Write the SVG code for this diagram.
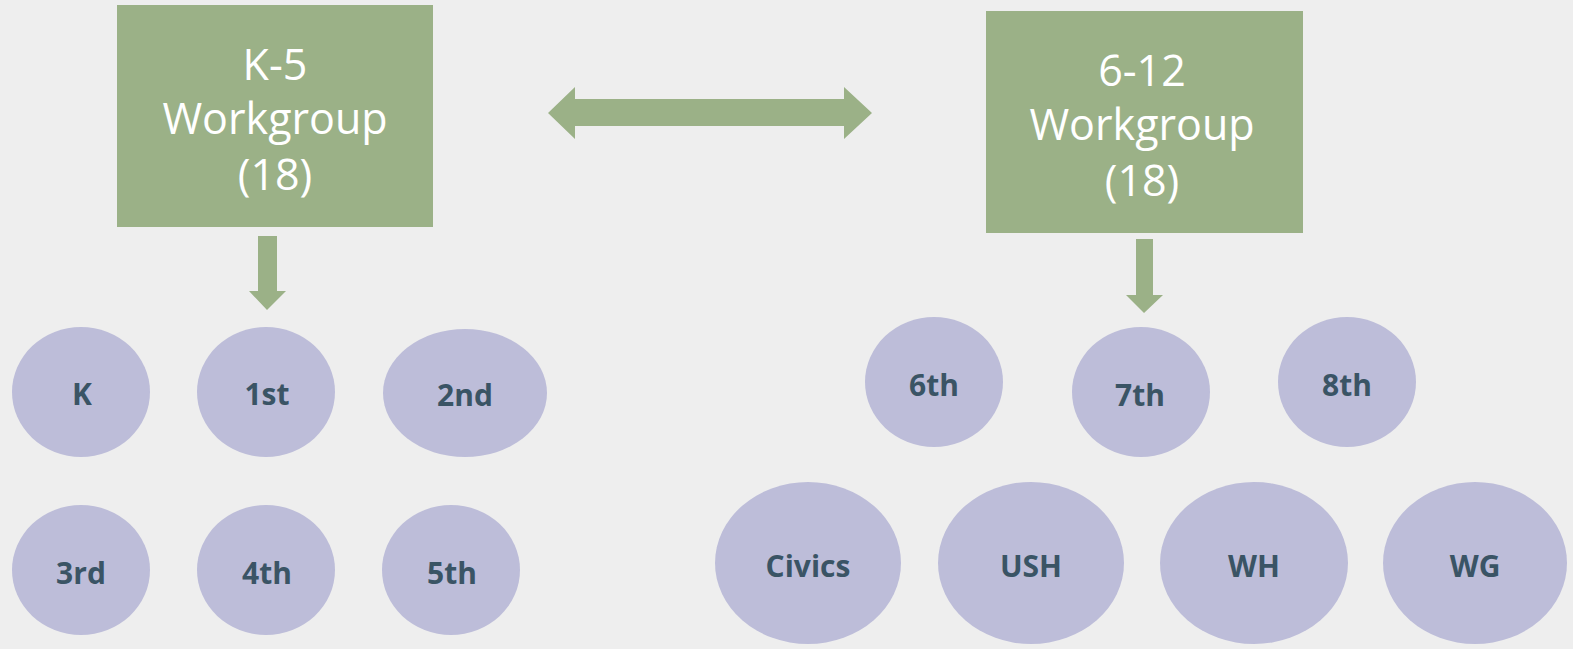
<svg xmlns="http://www.w3.org/2000/svg" width="1573" height="649" viewBox="0 0 1573 649">
<style>
.box{fill:#9bb187}
.bt{font-family:"Open Sans","Liberation Sans",sans-serif;font-size:43px;fill:#ffffff;text-anchor:middle}
.c{fill:#bdbdd9}
.ct{font-family:"Open Sans","Liberation Sans",sans-serif;font-weight:bold;font-size:30px;fill:#3a5465;text-anchor:middle}
.arr{fill:#9bb187}
</style>
<rect width="1573" height="649" fill="#eeeeee"/>
<g id="k5">
<rect class="box" x="117" y="5" width="316" height="222"/>
<text class="bt" x="275" y="80">K-5</text>
<text class="bt" x="275" y="134">Workgroup</text>
<text class="bt" x="275" y="190">(18)</text>
</g>
<g id="g612">
<rect class="box" x="986" y="11" width="317" height="222"/>
<text class="bt" x="1142" y="86">6-12</text>
<text class="bt" x="1142" y="140">Workgroup</text>
<text class="bt" x="1142" y="196">(18)</text>
</g>
<g id="connectors">
<polygon class="arr" points="548,113 575,87 575,99 844,99 844,87 872,113 844,139 844,126 575,126 575,139"/>
<polygon class="arr" points="258,236 277,236 277,291 286,291 267,310 249,291 258,291"/>
<polygon class="arr" points="1136,239 1153,239 1153,295 1163,295 1144,313 1126,295 1136,295"/>
</g>
<g id="n-k"><ellipse class="c" cx="81" cy="392" rx="69" ry="65"/><text class="ct" x="82" y="405">K</text></g>
<g id="n-1st"><ellipse class="c" cx="266" cy="392" rx="69" ry="65"/><text class="ct" x="267" y="405">1st</text></g>
<g id="n-2nd"><ellipse class="c" cx="465" cy="393" rx="82" ry="64"/><text class="ct" x="465" y="406">2nd</text></g>
<g id="n-3rd"><ellipse class="c" cx="81" cy="570" rx="69" ry="65"/><text class="ct" x="81" y="584">3rd</text></g>
<g id="n-4th"><ellipse class="c" cx="266" cy="570" rx="69" ry="65"/><text class="ct" x="267" y="584">4th</text></g>
<g id="n-5th"><ellipse class="c" cx="451" cy="570" rx="69" ry="65"/><text class="ct" x="452" y="584">5th</text></g>
<g id="n-6th"><ellipse class="c" cx="934" cy="382" rx="69" ry="65"/><text class="ct" x="934" y="396">6th</text></g>
<g id="n-7th"><ellipse class="c" cx="1141" cy="392" rx="69" ry="65"/><text class="ct" x="1140" y="406">7th</text></g>
<g id="n-8th"><ellipse class="c" cx="1347" cy="382" rx="69" ry="65"/><text class="ct" x="1347" y="396">8th</text></g>
<g id="n-civics"><ellipse class="c" cx="808" cy="563" rx="93" ry="81"/><text class="ct" x="808" y="577">Civics</text></g>
<g id="n-ush"><ellipse class="c" cx="1031" cy="563" rx="93" ry="81"/><text class="ct" x="1031" y="577">USH</text></g>
<g id="n-wh"><ellipse class="c" cx="1254" cy="563" rx="94" ry="81"/><text class="ct" x="1254" y="577">WH</text></g>
<g id="n-wg"><ellipse class="c" cx="1475" cy="563" rx="92" ry="81"/><text class="ct" x="1475" y="577">WG</text></g>
</svg>
